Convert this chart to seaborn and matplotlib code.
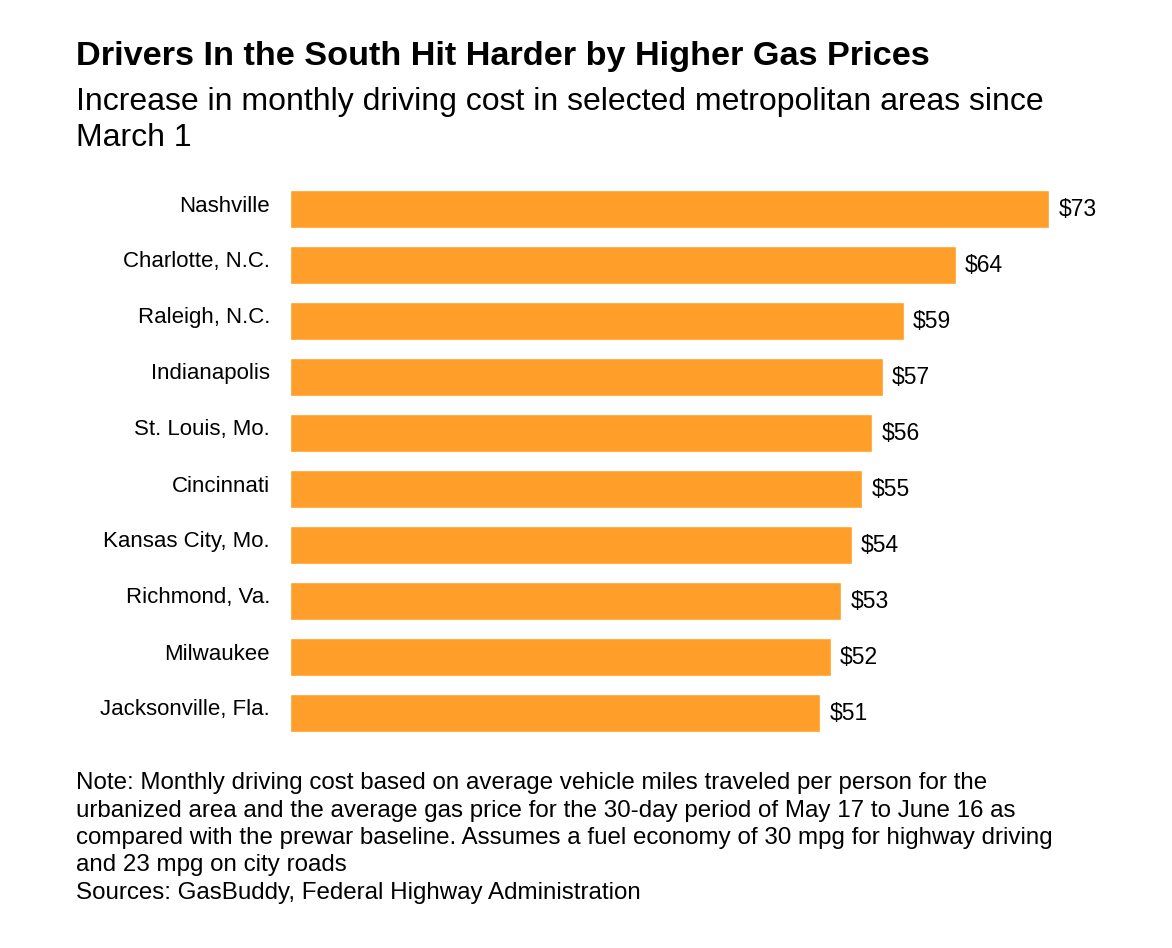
import matplotlib
matplotlib.use("Agg")
import matplotlib.pyplot as plt
import matplotlib.transforms as mtransforms
import seaborn as sns
import pandas as pd

cities = ["Nashville", "Charlotte, N.C.", "Raleigh, N.C.", "Indianapolis", "St. Louis, Mo.",
          "Cincinnati", "Kansas City, Mo.", "Richmond, Va.", "Milwaukee", "Jacksonville, Fla."]
values = [73, 64, 59, 57, 56, 55, 54, 53, 52, 51]

df = pd.DataFrame({"city": cities, "value": values})

sns.set_theme(style="white")
plt.rcParams["font.family"] = ["Liberation Sans", "DejaVu Sans"]

W, H = 1172, 948
fig = plt.figure(figsize=(W / 100, H / 100), dpi=100)
left, right, top, bottom = 290, 1100, 181, 741
ax = fig.add_axes([left / W, 1 - bottom / H, (right - left) / W, (bottom - top) / H])

sns.barplot(data=df, x="value", y="city", color="#FF9F29", saturation=1, width=0.69, ax=ax)
ax.set_xlim(0, (right - left) / 10.4)
ax.set_ylim(9.5, -0.5)
ax.set_xlabel("")
ax.set_ylabel("")
ax.set_xticks([])
ax.set_yticklabels([])
for s in ax.spines.values():
    s.set_visible(False)
ax.tick_params(axis="y", length=0)

lab_tr = mtransforms.blended_transform_factory(ax.transAxes, ax.transData) + \
    mtransforms.ScaledTranslation(-20 / 100, 3 / 100, fig.dpi_scale_trans)
for i, c in enumerate(cities):
    ax.text(0, i, c, transform=lab_tr, ha="right", va="center", fontsize=16, color="#000000")

for i, v in enumerate(values):
    ax.text(v + 0.9, i, f"${v}", va="center", ha="left", fontsize=16.5, color="#000000")

fig.text(76 / W, 1 - 57 / H, "Drivers In the South Hit Harder by Higher Gas Prices",
         fontsize=24.7, fontweight="bold", ha="left", va="center", color="#000000")
fig.text(76 / W, 1 - 120 / H,
         "Increase in monthly driving cost in selected metropolitan areas since\nMarch 1",
         fontsize=23, ha="left", va="center", color="#000000", linespacing=1.29)
note = ("Note: Monthly driving cost based on average vehicle miles traveled per person for the\n"
        "urbanized area and the average gas price for the 30-day period of May 17 to June 16 as\n"
        "compared with the prewar baseline. Assumes a fuel economy of 30 mpg for highway driving\n"
        "and 23 mpg on city roads\n"
        "Sources: GasBuddy, Federal Highway Administration")
fig.text(76 / W, 1 - 838 / H, note, fontsize=17.4, ha="left", va="center", color="#000000",
         linespacing=1.32)

fig.savefig("out.png", dpi=100, facecolor="white")
